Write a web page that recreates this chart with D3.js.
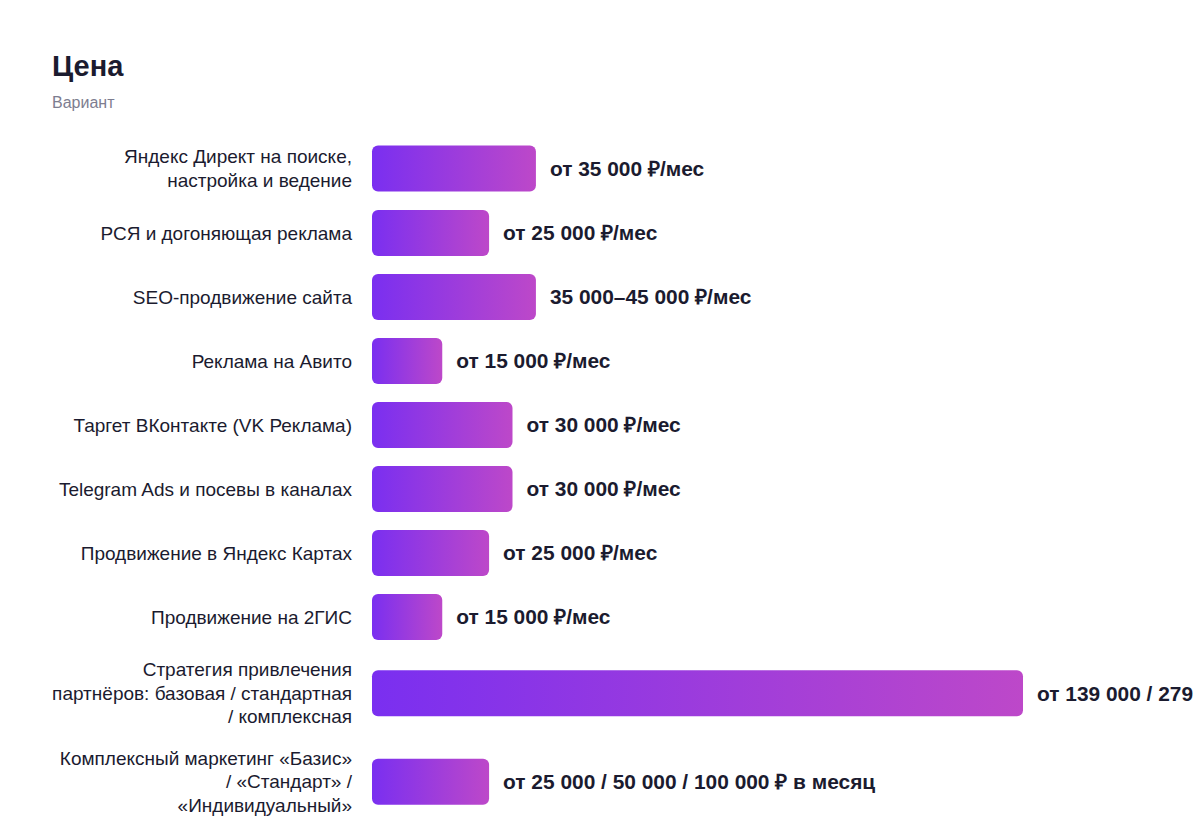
<!DOCTYPE html>
<html><head><meta charset="utf-8">
<script src="https://cdn.jsdelivr.net/npm/d3@7"></script>
<style>html,body{margin:0;padding:0;background:#fff;overflow:hidden}</style>
</head><body>
<svg id="c" width="1200" height="840"></svg>
<script>
const categories = [
  "Яндекс Директ на поиске,\nнастройка и ведение",
  "РСЯ и догоняющая реклама",
  "SEO-продвижение сайта",
  "Реклама на Авито",
  "Таргет ВКонтакте (VK Реклама)",
  "Telegram Ads и посевы в каналах",
  "Продвижение в Яндекс Картах",
  "Продвижение на 2ГИС",
  "Стратегия привлечения\nпартнёров: базовая / стандартная\n/ комплексная",
  "Комплексный маркетинг «Базис»\n/ «Стандарт» /\n«Индивидуальный»"
];
const values = [35000, 25000, 35000, 15000, 30000, 30000, 25000, 15000, 139000, 25000];
const valueLabels = [
  "от 35 000 ₽/мес",
  "от 25 000 ₽/мес",
  "35 000–45 000 ₽/мес",
  "от 15 000 ₽/мес",
  "от 30 000 ₽/мес",
  "от 30 000 ₽/мес",
  "от 25 000 ₽/мес",
  "от 15 000 ₽/мес",
  "от 139 000 / 279",
  "от 25 000 / 50 000 / 100 000 ₽ в месяц"
];
const title = "Цена";
const subtitle = "Вариант";

const svg = d3.select("#c");
const font = "'Liberation Sans', Arial, Helvetica, sans-serif";
const barX = 372, barH = 46, gap = 18, lineH = 23.5, top0 = 145, plotW = 651;

svg.append("text").attr("x", 52).attr("y", 76).text(title)
  .attr("font-family", font).attr("font-weight", 700).attr("font-size", 29).attr("fill", "#1b1b2f");
svg.append("text").attr("x", 52).attr("y", 108).text(subtitle)
  .attr("font-family", font).attr("font-size", 16).attr("fill", "#7d7d90");

const x = d3.scaleLinear().domain([0, d3.max(values)]).range([0, plotW]);

// row layout from number of label lines
const rows = [];
let y = top0;
categories.forEach((c, i) => {
  const lines = c.split("\n");
  const h = Math.max(barH, lines.length * lineH);
  rows.push({c, lines, v: values[i], lab: valueLabels[i], y0: y, h, cy: y + h / 2});
  y += h + gap;
});

const defs = svg.append("defs");
const grad = defs.append("linearGradient").attr("id", "g").attr("x1", "0%").attr("x2", "100%").attr("y1", "0%").attr("y2", "0%");
grad.append("stop").attr("offset", "0%").attr("stop-color", "#7a2ff0");
grad.append("stop").attr("offset", "100%").attr("stop-color", "#bd48c9");

const g = svg.selectAll("g.row").data(rows).join("g").attr("class", "row");

g.append("rect")
  .attr("x", barX).attr("y", d => d.cy - barH / 2)
  .attr("width", d => x(d.v)).attr("height", barH)
  .attr("rx", 6).attr("fill", "url(#g)");

g.append("text")
  .attr("x", d => barX + x(d.v) + 14).attr("y", d => d.cy).attr("dy", "0.35em")
  .attr("font-family", font).attr("font-weight", 700).attr("font-size", 20.9).attr("fill", "#1b1b2f")
  .text(d => d.lab);

g.each(function(d) {
  const t = d3.select(this).append("text").attr("text-anchor", "end")
    .attr("font-family", font).attr("font-size", 19).attr("fill", "#1b1b2f");
  const n = d.lines.length;
  d.lines.forEach((l, k) => {
    t.append("tspan").attr("x", 352)
      .attr("y", d.cy + (k - (n - 1) / 2) * lineH).attr("dy", "0.35em").text(l);
  });
});
</script>
</body></html>
